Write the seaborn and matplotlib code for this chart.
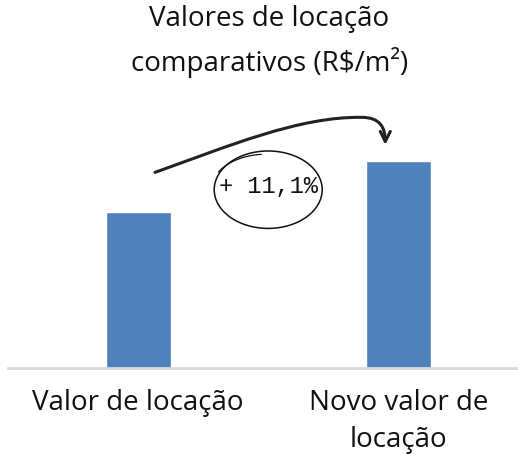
import numpy as np
import pandas as pd
import seaborn as sns
import matplotlib.pyplot as plt
from matplotlib.patches import Ellipse, FancyArrowPatch
from matplotlib.path import Path

categorias = ["Valor de locação", "Novo valor de\nlocação"]
valores = [45.0, 50.0]
rotulo_var = "+ 11,1%"
titulo = "Valores de locação\ncomparativos (R$/m²)"

sns.set_theme(style="white")
plt.rcParams["font.family"] = ["Open Sans", "DejaVu Sans"]

df = pd.DataFrame({"cat": categorias, "valor": valores})

fig = plt.figure(figsize=(5.18, 4.55), dpi=100)
ax = fig.add_axes([8 / 518, 87 / 455, 510 / 518, 270 / 455])

sns.barplot(data=df, x="cat", y="valor", color="#4F81BD", saturation=1,
            width=0.25, ax=ax)

ax.set_ylim(29.7, 56.2)
ax.set_xlim(-0.5, 1.46)
ax.set_xlabel("")
ax.set_ylabel("")
ax.set_yticks([])
sns.despine(ax=ax, left=True)
ax.spines["bottom"].set_color("#d9d9d9")
ax.spines["bottom"].set_linewidth(2)
ax.tick_params(axis="x", length=0, pad=15, labelsize=20, colors="#111111")
for t in ax.get_xticklabels():
    t.set_linespacing(1.45)

fig.text(0.52, 0.988, titulo, ha="center", va="top", fontsize=20,
         color="#111111", linespacing=1.55)

# seta curva entre as barras
v1, v2 = valores
verts = [(0.065, v1 + 3.9), (0.35, v1 + 6.5), (0.62, v1 + 9.4), (0.86, v1 + 9.3),
         (0.93, v1 + 9.3), (0.95, v1 + 8.3), (0.95, v2 + 1.6)]
codes = [Path.MOVETO, Path.CURVE4, Path.CURVE4, Path.CURVE4,
         Path.CURVE4, Path.CURVE4, Path.CURVE4]
seta = FancyArrowPatch(path=Path(verts, codes), arrowstyle="->",
                       mutation_scale=18, lw=2.2, color="#222222")
ax.add_patch(seta)

# elipse com a variação
ax.add_patch(Ellipse((0.5, v1 + 2.2), 0.415, 7.6, fill=False, lw=1.1,
                     ec="#111111"))
t = np.radians(np.linspace(95, 150, 40))
ax.plot(0.492 + 0.2115 * np.cos(t), v1 + 2.2 + 3.48 * np.sin(t), lw=0.9,
        color="#111111", zorder=5)
ax.text(0.5, v1 + 2.5, rotulo_var, ha="center", va="center", fontsize=17,
        family=["Liberation Mono", "DejaVu Sans Mono"], color="#111111")

plt.savefig("out.png", dpi=100)
